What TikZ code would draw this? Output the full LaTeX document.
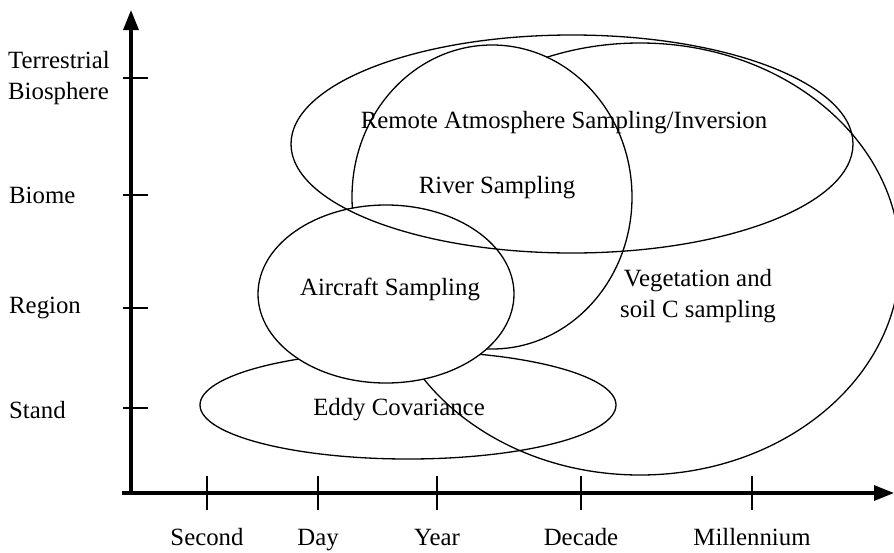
\documentclass[tikz,border=0pt]{standalone}
\usepackage{fontspec}
\setmainfont{Liberation Serif}
\usetikzlibrary{arrows.meta}
\begin{document}
\begin{tikzpicture}[x=1pt,y=-1pt,
  outline/.style={line width=1.3pt},
  axisline/.style={line width=3.2pt,-{Triangle[length=20pt,width=15pt]}},
  tick/.style={line width=1.2pt},
  lbl/.style={inner sep=0pt,font=\fontsize{24.8}{30.5}\selectfont},
]
\useasboundingbox (0,0) rectangle (894,552);
\clip (0,0) rectangle (894,552);
% shapes
\draw[outline] (640,259) ellipse [x radius=260, y radius=216];
\draw[outline] (408,405) ellipse [x radius=208, y radius=54];
\draw[outline,fill=white] (492,197) ellipse [x radius=140, y radius=152];
\draw[outline,fill=white] (386,294) ellipse [x radius=128, y radius=89];
\draw[outline] (572,144) ellipse [x radius=281, y radius=109];
% axes
\coordinate (O) at (131,493);
\coordinate (ytip) at (131,10);
\coordinate (xstart) at (122,493);
\coordinate (xtip) at (894,493);
\draw[axisline] (O) -- (ytip);
\draw[axisline] (xstart) -- (xtip);
% y ticks
\foreach \yy/\nm in {78/tb,195/bi,308/re,408/st}{
  \coordinate (\nm L) at (123,\yy);
  \coordinate (\nm R) at (148,\yy);
  \draw[tick] (\nm L) -- (\nm R);
}
% x ticks
\foreach \xx/\nm in {207/se,318/da,437/ye,581/de,752/mi}{
  \coordinate (\nm T) at (\xx,476);
  \coordinate (\nm B) at (\xx,510);
  \draw[tick] (\nm T) -- (\nm B);
}
% axis labels
\node[lbl,anchor=west,align=left] (tbio) at (8,78) {Terrestrial\\Biosphere};
\node[lbl,anchor=base west] (biome) at (9,203) {Biome};
\node[lbl,anchor=base west] (region) at (9,313) {Region};
\node[lbl,anchor=base west] (stand) at (9,418) {Stand};
\node[lbl,anchor=base] (second) at (207,545) {Second};
\node[lbl,anchor=base] (day) at (318,545) {Day};
\node[lbl,anchor=base] (year) at (437,545) {Year};
\node[lbl,anchor=base] (decade) at (581,545) {Decade};
\node[lbl,anchor=base] (millennium) at (752,545) {Millennium};
% ellipse labels
\node[lbl,anchor=base] (remote) at (564,128) {Remote Atmosphere Sampling/Inversion};
\node[lbl,anchor=base] (river) at (497,193) {River Sampling};
\node[lbl,anchor=base] (aircraft) at (390,295) {Aircraft Sampling};
\node[lbl,anchor=base] (eddy) at (399,415) {Eddy Covariance};
\node[lbl,align=center] (veg) at (698,296) {Vegetation and\\soil C sampling};
\end{tikzpicture}
\end{document}
